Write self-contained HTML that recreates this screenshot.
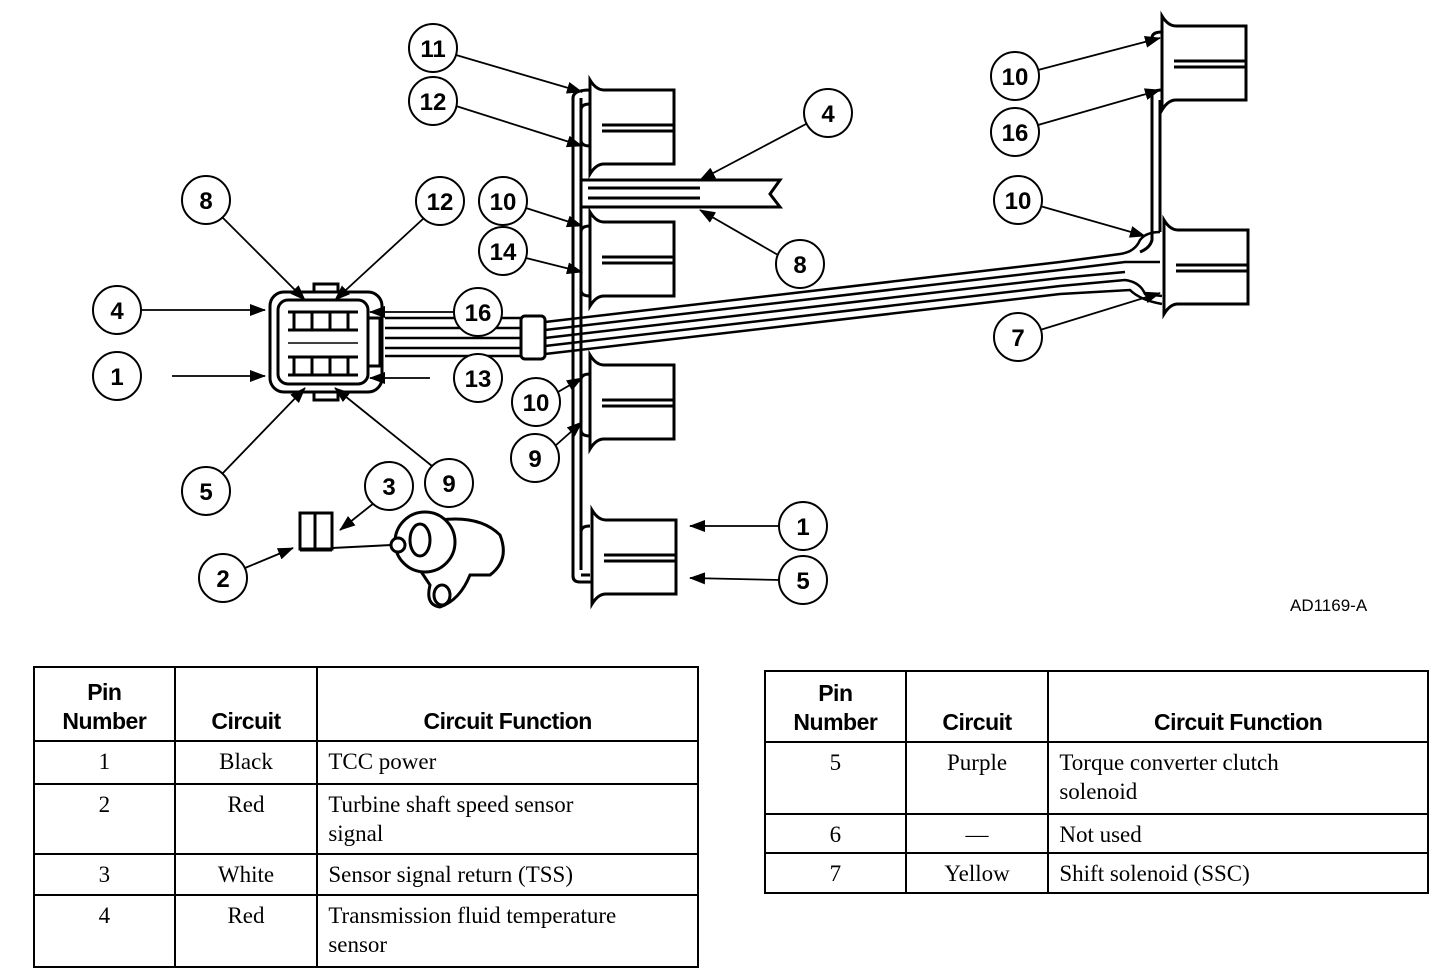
<!DOCTYPE html>
<html><head><meta charset="utf-8"><style>
html,body{margin:0;padding:0;background:#fff;}
body{width:1456px;height:976px;position:relative;overflow:hidden;}
svg{position:absolute;left:0;top:0;}
.t{position:absolute;border-collapse:collapse;font-family:"Liberation Serif",serif;font-size:23px;color:#000;}
.t td{border:2.5px solid #000;padding:5px 0 0 0;vertical-align:top;line-height:29px;}
.t th{border:2.5px solid #000;font-family:"Liberation Sans",sans-serif;font-weight:bold;font-size:23px;line-height:29px;vertical-align:bottom;padding:0 0 4px 0;letter-spacing:-0.5px;}
.c{text-align:center;}
.f{padding-left:10px !important;}
</style></head><body>
<svg width="1456" height="976" viewBox="0 0 1456 976">
<defs>
<marker id="a" markerWidth="16" markerHeight="12" refX="15" refY="6" orient="auto" markerUnits="userSpaceOnUse"><path d="M0,0 L16,6 L0,12 Z" fill="#000"/></marker>
<g id="sock" fill="#fff" stroke="#000" stroke-width="3">
<path d="M2,0 Q8,10 16,10 H86 V84 H16 Q8,84 2,94 Z"/>
<line x1="14" y1="45" x2="86" y2="45"/><line x1="14" y1="51" x2="86" y2="51"/>
</g>
</defs>
<g fill="none" stroke="#000" stroke-width="3">
<path d="M573,98 V576 Q573,582 580,582 H592"/>
<path d="M581,98 V570"/>
<path d="M573,98 Q573,90 590,90"/>
<path d="M581,110 Q581,104 590,104 M581,140 Q581,146 590,146"/>
<path d="M581,180 H700 M581,207 H700 M588,188 H700 M588,198 H700"/>
<path d="M700,180 H780 L770,194 L780,207 H700"/>
<path d="M581,232 Q581,226 590,226 M581,290 Q581,296 590,296"/>
<path d="M581,380 Q581,374 590,374 M581,430 Q581,436 590,436"/>
<path d="M581,532 Q581,526 590,526 M581,575 H590"/>
<path d="M1152,96 V240 Q1150,248 1140,252 M1160,100 V232"/>
<path d="M1152,38 Q1152,32 1162,32 M1152,96 Q1152,90 1162,90"/>
</g>
<use href="#sock" x="588" y="80"/>
<use href="#sock" x="588" y="212"/>
<use href="#sock" x="588" y="355"/>
<use href="#sock" x="590" y="510"/>
<use href="#sock" x="1160" y="16"/>
<use href="#sock" x="1162" y="220"/>
<g fill="none" stroke="#000" stroke-width="2.5">
<path d="M385,318 H522 M385,328 H522 M385,338 H522 M385,348 H522 M385,356 H522"/>
<path d="M545,322 L1060,262 M545,330 L1060,270 M545,338 L1060,278 M545,346 L1060,286 M545,354 L1060,294"/>
<path d="M1060,262 L1120,254 Q1135,252 1140,240 Q1146,232 1160,232 M1060,270 L1125,262 L1160,262 M1060,278 L1125,272 M1060,286 L1125,280 Q1140,282 1145,294 L1162,296 M1060,294 L1130,290 Q1140,300 1162,304"/>
</g>
<rect x="521" y="316" width="24" height="43" rx="4" fill="#fff" stroke="#000" stroke-width="3"/>
<g fill="none" stroke="#000" stroke-width="3">
<rect x="270" y="292" width="112" height="100" rx="14"/>
<rect x="278" y="300" width="90" height="84" rx="10"/>
<rect x="368" y="318" width="12" height="48"/>
<path d="M314,292 v-8 h24 v8 M314,392 v8 h24 v-8"/>
</g>
<g stroke="#000" stroke-width="3">
<line x1="288" y1="312" x2="358" y2="312"/><line x1="288" y1="330" x2="358" y2="330"/>
<line x1="288" y1="357" x2="358" y2="357"/><line x1="288" y1="375" x2="358" y2="375"/>
<line x1="288" y1="343" x2="358" y2="343" stroke-width="1.5"/>
<line x1="294" y1="312" x2="294" y2="330"/><line x1="312" y1="312" x2="312" y2="330"/><line x1="330" y1="312" x2="330" y2="330"/><line x1="348" y1="312" x2="348" y2="330"/>
<line x1="294" y1="357" x2="294" y2="375"/><line x1="312" y1="357" x2="312" y2="375"/><line x1="330" y1="357" x2="330" y2="375"/><line x1="348" y1="357" x2="348" y2="375"/>
</g>
<g fill="#fff" stroke="#000" stroke-width="3">
<rect x="300" y="513" width="32" height="36"/>
<line x1="315" y1="513" x2="315" y2="549"/>
<path d="M300,550 H332" />
<line x1="332" y1="548" x2="392" y2="545" stroke-width="2"/>
<path d="M440,520 Q480,515 500,535 Q510,560 490,575 L470,575 Q460,600 440,607 Q425,605 430,585 L420,570"/>
<circle cx="425" cy="542" r="30"/>
<ellipse cx="420" cy="540" rx="10" ry="16"/>
<circle cx="398" cy="545" r="7"/>
<ellipse cx="442" cy="595" rx="8" ry="10"/>
</g>
<g stroke="#000" stroke-width="1.8" fill="none" marker-end="url(#a)">
<line x1="456" y1="55" x2="582" y2="92"/>
<line x1="456" y1="106" x2="582" y2="146"/>
<line x1="806" y1="124" x2="700" y2="180"/>
<line x1="778" y1="255" x2="700" y2="210"/>
<line x1="222" y1="217" x2="305" y2="300"/>
<line x1="424" y1="218" x2="335" y2="300"/>
<line x1="526" y1="208" x2="582" y2="226"/>
<line x1="526" y1="258" x2="582" y2="272"/>
<line x1="140" y1="310" x2="265" y2="310"/>
<line x1="455" y1="312" x2="370" y2="312"/>
<line x1="172" y1="376" x2="265" y2="376"/>
<line x1="430" y1="378" x2="370" y2="378"/>
<line x1="558" y1="392" x2="582" y2="378"/>
<line x1="555" y1="446" x2="582" y2="422"/>
<line x1="222" y1="474" x2="305" y2="388"/>
<line x1="432" y1="466" x2="335" y2="388"/>
<line x1="374" y1="503" x2="340" y2="530"/>
<line x1="245" y1="568" x2="293" y2="548"/>
<line x1="780" y1="526" x2="690" y2="526"/>
<line x1="780" y1="580" x2="690" y2="578"/>
<line x1="1038" y1="70" x2="1160" y2="38"/>
<line x1="1038" y1="125" x2="1160" y2="90"/>
<line x1="1040" y1="206" x2="1145" y2="236"/>
<line x1="1040" y1="330" x2="1160" y2="293"/>
</g>
<g fill="#fff" stroke="#000" stroke-width="2">
<circle cx="433" cy="48" r="24"/><circle cx="433" cy="101" r="24"/><circle cx="828" cy="113" r="24"/>
<circle cx="206" cy="200" r="24"/><circle cx="440" cy="201" r="24"/><circle cx="503" cy="201" r="24"/>
<circle cx="503" cy="251" r="24"/><circle cx="800" cy="264" r="24"/><circle cx="117" cy="310" r="24"/>
<circle cx="478" cy="312" r="24"/><circle cx="117" cy="376" r="24"/><circle cx="478" cy="378" r="24"/>
<circle cx="536" cy="402" r="24"/><circle cx="535" cy="458" r="24"/><circle cx="206" cy="491" r="24"/>
<circle cx="389" cy="486" r="24"/><circle cx="449" cy="483" r="24"/><circle cx="223" cy="578" r="24"/>
<circle cx="803" cy="526" r="24"/><circle cx="803" cy="580" r="24"/><circle cx="1015" cy="76" r="24"/>
<circle cx="1015" cy="132" r="24"/><circle cx="1018" cy="200" r="24"/><circle cx="1018" cy="337" r="24"/>
</g>
<g font-family="Liberation Sans, sans-serif" font-weight="bold" font-size="24" text-anchor="middle" fill="#000">
<text x="433" y="57">11</text><text x="433" y="110">12</text><text x="828" y="122">4</text>
<text x="206" y="209">8</text><text x="440" y="210">12</text><text x="503" y="210">10</text>
<text x="503" y="260">14</text><text x="800" y="273">8</text><text x="117" y="319">4</text>
<text x="478" y="321">16</text><text x="117" y="385">1</text><text x="478" y="387">13</text>
<text x="536" y="411">10</text><text x="535" y="467">9</text><text x="206" y="500">5</text>
<text x="389" y="495">3</text><text x="449" y="492">9</text><text x="223" y="587">2</text>
<text x="803" y="535">1</text><text x="803" y="589">5</text><text x="1015" y="85">10</text>
<text x="1015" y="141">16</text><text x="1018" y="209">10</text><text x="1018" y="346">7</text>
</g>
<text x="1290" y="611" font-family="Liberation Sans, sans-serif" font-size="17" fill="#000">AD1169-A</text>
</svg>

<table class="t" style="left:33px;top:666px;width:666px;">
<colgroup><col style="width:141px"><col style="width:143px"><col style="width:382px"></colgroup>
<tr style="height:74px"><th>Pin<br>Number</th><th>Circuit</th><th>Circuit Function</th></tr>
<tr style="height:43px"><td class="c">1</td><td class="c">Black</td><td class="f">TCC power</td></tr>
<tr style="height:70px"><td class="c">2</td><td class="c">Red</td><td class="f">Turbine shaft speed sensor<br>signal</td></tr>
<tr style="height:41px"><td class="c">3</td><td class="c">White</td><td class="f">Sensor signal return (TSS)</td></tr>
<tr style="height:72px"><td class="c">4</td><td class="c">Red</td><td class="f">Transmission fluid temperature<br>sensor</td></tr>
</table>

<table class="t" style="left:764px;top:670px;width:665px;">
<colgroup><col style="width:141px"><col style="width:143px"><col style="width:381px"></colgroup>
<tr style="height:71px"><th>Pin<br>Number</th><th>Circuit</th><th>Circuit Function</th></tr>
<tr style="height:72px"><td class="c">5</td><td class="c">Purple</td><td class="f">Torque converter clutch<br>solenoid</td></tr>
<tr style="height:39px"><td class="c">6</td><td class="c">—</td><td class="f">Not used</td></tr>
<tr style="height:40px"><td class="c">7</td><td class="c">Yellow</td><td class="f">Shift solenoid (SSC)</td></tr>
</table>
</body></html>
